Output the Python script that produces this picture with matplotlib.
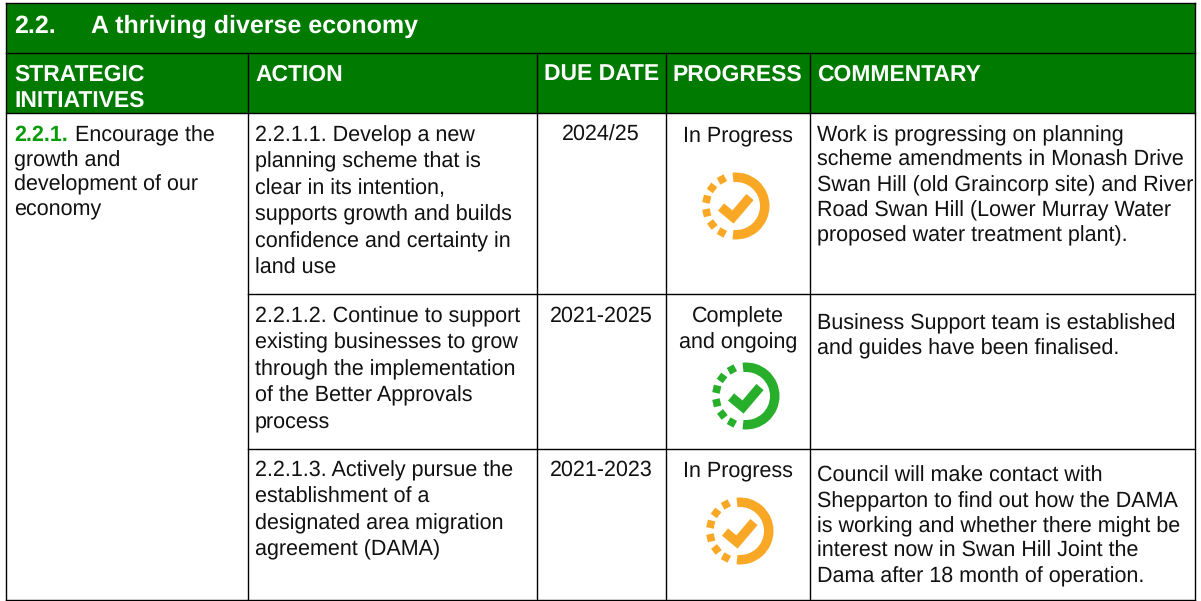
"""Recreate the 'A thriving diverse economy' progress table."""

import numpy as np
import matplotlib

matplotlib.use("Agg")
import matplotlib.pyplot as plt
from matplotlib.patches import Polygon, Rectangle, Wedge

plt.rcParams["font.family"] = ["Liberation Sans", "DejaVu Sans"]
plt.rcParams["text.hinting"] = "no_hinting"

TITLE_NUMBER = "2.2."
TITLE = "A thriving diverse economy"
HEADERS = ["ACTION", "DUE DATE", "PROGRESS", "COMMENTARY"]
HEADER_FIRST = ["STRATEGIC", "INITIATIVES"]
INITIATIVE_NUMBER = "2.2.1."
INITIATIVE = ["Encourage the", "growth and", "development of our", "economy"]
ACTIONS = [
    ["2.2.1.1. Develop a new", "planning scheme that is", "clear in its intention,",
     "supports growth and builds", "confidence and certainty in", "land use"],
    ["2.2.1.2. Continue to support", "existing businesses to grow",
     "through the implementation", "of the Better Approvals", "process"],
    ["2.2.1.3. Actively pursue the", "establishment of a",
     "designated area migration", "agreement (DAMA)"],
]
DUE_DATES = ["2024/25", "2021-2025", "2021-2023"]
PROGRESS = [["In Progress"], ["Complete", "and ongoing"], ["In Progress"]]
COMMENTARY = [
    ["Work is progressing on planning", "scheme amendments in Monash Drive",
     "Swan Hill (old Graincorp site) and River", "Road Swan Hill (Lower Murray Water",
     "proposed water treatment plant)."],
    ["Business Support team is established", "and guides have been finalised."],
    ["Council will make contact with", "Shepparton to find out how the DAMA",
     "is working and whether there might be", "interest now in Swan Hill Joint the",
     "Dama after 18 month of operation."],
]

GREEN = "#007a00"
LABEL_GREEN = "#0a9a0a"
ORANGE = "#f9a825"
ICON_GREEN = "#27ae2a"
BODY = "#111111"
SIZE = 15.5

COLS = [6, 248, 537, 666, 810, 1195]
ROWS = [113, 294, 449, 600]
ACTION_Y = [141, 322, 476]
DATE_Y = [141, 322, 476]
PROGRESS_Y = [141, 322, 476]
COMMENT_Y = [141, 329, 482]
ICONS = [(736, 206, ORANGE), (746, 396, ICON_GREEN), (740, 531, ORANGE)]


def draw_lines(ax, x, y, lines, step, **kwargs):
    kwargs.setdefault("fontsize", SIZE)
    kwargs.setdefault("color", BODY)
    for i, line in enumerate(lines):
        ax.text(x, y + i * step, line, va="baseline", **kwargs)


def draw_icon(ax, cx, cy, color):
    ax.add_patch(Wedge((cx, cy), 33.5, -96, 96, width=9.5, color=color, lw=0))
    half = 3.8
    for deg in [118, 143, 167, 193, 218, 242]:
        a = np.radians(deg)
        px, py = cx + 30 * np.cos(a), cy - 30 * np.sin(a)
        ux, uy = np.cos(a), -np.sin(a)
        corners = [(px + s * half * ux + t * half * -uy, py + s * half * uy + t * half * ux)
                   for s, t in [(-1, -1), (1, -1), (1, 1), (-1, 1)]]
        ax.add_patch(Polygon(corners, closed=True, color=color, lw=0))
    ax.plot([cx - 15, cx - 3, cx + 14], [cy + 1, cy + 11, cy - 9], color=color,
            lw=6.8, solid_capstyle="butt", solid_joinstyle="miter")


def main():
    fig = plt.figure(figsize=(12.01, 6.01), dpi=100)
    ax = fig.add_axes([0, 0, 1, 1])
    ax.set_xlim(0, 1201)
    ax.set_ylim(601, 0)
    ax.axis("off")

    left, right = COLS[0], COLS[-1]
    ax.add_patch(Rectangle((left, 3), right - left, 110, color=GREEN, lw=0))

    lw = 1.0
    ax.plot([left, right], [3, 3], color="black", lw=lw)
    ax.plot([left, right], [53, 53], color="black", lw=lw)
    ax.plot([left, right], [113, 113], color="black", lw=lw)
    ax.plot([left, right], [600, 600], color="black", lw=lw)
    ax.plot([left, left], [3, 600], color="black", lw=lw)
    ax.plot([right, right], [3, 600], color="black", lw=lw)
    for x in COLS[1:-1]:
        ax.plot([x, x], [53, 600], color="black", lw=lw)
    for y in ROWS[1:-1]:
        ax.plot([COLS[1], right], [y, y], color="black", lw=lw)

    ax.text(14, 33, TITLE_NUMBER, color="white", fontsize=18, fontweight="bold", va="baseline")
    ax.text(91, 33, TITLE, color="white", fontsize=18, fontweight="bold", va="baseline")

    head = dict(color="white", fontsize=16.5, fontweight="bold")
    draw_lines(ax, 14, 81, HEADER_FIRST, 26, **head)
    ax.text(255, 81, HEADERS[0], va="baseline", **head)
    ax.text(602, 81, HEADERS[1], ha="center", va="baseline", **head)
    ax.text(737, 81, HEADERS[2], ha="center", va="baseline", **head)
    ax.text(817, 81, HEADERS[3], va="baseline", **head)

    ax.text(14, 141, INITIATIVE_NUMBER, color=LABEL_GREEN, fontsize=SIZE,
            fontweight="bold", va="baseline")
    ax.text(75, 141, INITIATIVE[0], fontsize=SIZE, color=BODY, va="baseline")
    draw_lines(ax, 14, 166, INITIATIVE[1:], 24.7)

    for i in range(3):
        draw_lines(ax, 255, ACTION_Y[i], ACTIONS[i], 26.5)
        ax.text(601, DATE_Y[i], DUE_DATES[i], ha="center", va="baseline",
                fontsize=SIZE, color=BODY)
        draw_lines(ax, 738, PROGRESS_Y[i], PROGRESS[i], 26, ha="center")
        draw_lines(ax, 817, COMMENT_Y[i], COMMENTARY[i], 25)
        draw_icon(ax, *ICONS[i])

    fig.savefig("out.png", dpi=100)


if __name__ == "__main__":
    main()
